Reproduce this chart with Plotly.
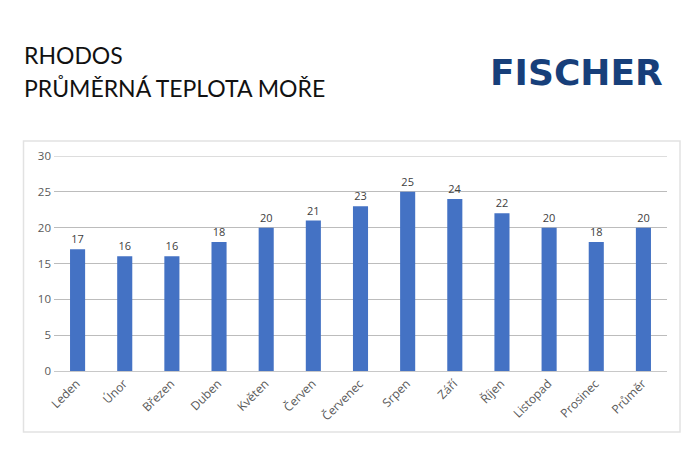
import plotly.graph_objects as go

months = ["Leden", "Únor", "Březen", "Duben", "Květen", "Červen", "Červenec",
          "Srpen", "Září", "Říjen", "Listopad", "Prosinec", "Průměr"]
temps = [17, 16, 16, 18, 20, 21, 23, 25, 24, 22, 20, 18, 20]
y_ticks = [0, 5, 10, 15, 20, 25, 30]
y_max = y_ticks[-1]
title_lines = ["RHODOS", "PRŮMĚRNÁ TEPLOTA MOŘE"]
logo_text = "FISCHER"

OFF = 8  # page body margin
W, H = 700 - OFF, 450 - OFF
L, R, T, B = 54 - OFF, 667 - OFF, 156 - OFF, 371 - OFF

def px(x):
    return (x - OFF - L) / (R - L)

def py(y):
    return (B - (y - OFF)) / (B - T)

fig = go.Figure(go.Bar(
    x=months, y=temps, width=0.32,
    marker=dict(color="#4472C4", line=dict(width=0)),
    text=temps, textposition="outside", cliponaxis=False,
    textfont=dict(family="Open Sans", size=11, color="#404040"),
    hoverinfo="x+y",
))

fig.update_layout(
    width=W, height=H,
    margin=dict(l=L, r=W - R, t=T, b=H - B, pad=0),
    paper_bgcolor="white", plot_bgcolor="white",
    showlegend=False,
    xaxis=dict(
        tickangle=-45, tickfont=dict(family="Open Sans", size=12, color="#595959"),
        showgrid=False, showline=True, linecolor="#c8c8c8", linewidth=1,
        ticks="", automargin=False, fixedrange=True, ticklabelshift=-1,
    ),
    yaxis=dict(
        range=[0, y_max], tickvals=y_ticks,
        tickfont=dict(family="Open Sans", size=11.5, color="#595959"),
        showgrid=True, gridcolor="#bcbcbc", gridwidth=1,
        zeroline=False, ticks="", automargin=False, fixedrange=True,
        ticklabelstandoff=2,
    ),
    shapes=[
        dict(type="rect", xref="paper", yref="paper", layer="below",
             x0=px(23.5), x1=px(680), y0=py(432), y1=py(141),
             line=dict(color="#e2e2e2", width=1.5), fillcolor="white"),
        dict(type="line", xref="paper", yref="y", layer="below",
             x0=0, x1=1, y0=y_max, y1=y_max,
             line=dict(color="#bcbcbc", width=1)),
    ],
    annotations=[
        dict(text=title_lines[0], xref="paper", yref="paper",
             x=px(22), y=py(55), xanchor="left", yanchor="middle", showarrow=False,
             font=dict(family="Lato", size=23, color="#111111")),
        dict(text=title_lines[1], xref="paper", yref="paper",
             x=px(22), y=py(88), xanchor="left", yanchor="middle", showarrow=False,
             font=dict(family="Lato", size=23, color="#111111")),
        dict(text="<b>" + logo_text + "</b>", xref="paper", yref="paper",
             x=px(576.5), y=py(73), xanchor="center", yanchor="middle", showarrow=False,
             font=dict(family="DejaVu Sans", size=36, color="#173f7a")),
    ],
)

fig.write_html("out.html", config={"displayModeBar": False})
